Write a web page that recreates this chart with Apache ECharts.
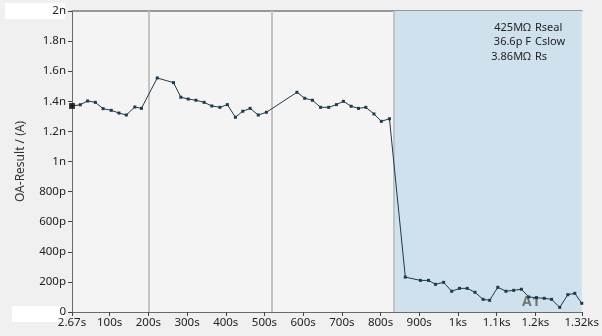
<!DOCTYPE html>
<html><head><meta charset="utf-8">
<script src="https://cdn.jsdelivr.net/npm/echarts@6/dist/echarts.min.js"></script>
<style>html,body{margin:0;padding:0;background:#f0f0f0;}#c{width:602px;height:336px;}</style>
</head><body><div id="c"></div>
<script>
// time (s)
const times = [2.67,24,43,63,83,104,124,143,165,182,223,265,284,303,323,344,364,385,404,425,444,463,484,505,584,604,624,645,666,686,704,724,743,762,783,802,823,864,903,924,942,963,984,1004,1024,1044,1065,1082,1103,1124,1144,1164,1183,1203,1223,1242,1263,1284,1302,1320];
// OA-Result in nA
const values = [1.369,1.377,1.402,1.393,1.351,1.340,1.322,1.309,1.362,1.353,1.555,1.524,1.427,1.415,1.407,1.393,1.369,1.360,1.378,1.294,1.334,1.353,1.309,1.327,1.460,1.420,1.407,1.360,1.360,1.378,1.400,1.367,1.353,1.360,1.316,1.267,1.284,0.232,0.210,0.210,0.184,0.197,0.138,0.157,0.157,0.131,0.084,0.078,0.164,0.138,0.144,0.151,0.100,0.095,0.091,0.084,0.031,0.115,0.124,0.058];
const xTicks = [2.67,100,200,300,400,500,600,700,800,900,1000,1100,1200,1320];
const cursorTimes = [202, 518];
const regionStart = 834, regionEnd = 1320;
const paramValues = ['425M\u03A9','36.6p F','3.86M\u03A9'];
const paramNames = ['Rseal','Cslow','Rs'];
const regionLabel = 'A1';

const fmtX = v => v < 1000 ? (Math.round(v*100)/100) + 's' : (Math.round(v)/1000) + 'ks';
const fmtY = v => { v = Math.round(v*1000)/1000; if (v === 0) return '0'; if (v < 1) return Math.round(v*1000) + 'p'; return v + 'n'; };

const font = 'Noto Sans';
const chart = echarts.init(document.getElementById('c'));
const graphics = [
  {type:'rect', left:5, top:3, shape:{width:60,height:16}, style:{fill:'#ffffff'}, z:-1},
  {type:'rect', left:12, top:306, shape:{width:53,height:16}, style:{fill:'#ffffff'}, z:-1},
  {type:'text', left:522, top:295, z:3, style:{text:regionLabel, fill:'#727272', fontSize:14, fontWeight:'bold', fontFamily:font}}
];
paramValues.forEach((pv,i)=>{
  graphics.push({type:'text', right:602-531, top:22+i*14.5, z:100, style:{text:pv, fill:'#222', fontSize:11, fontFamily:font}});
  graphics.push({type:'text', left:535, top:22+i*14.5, z:100, style:{text:paramNames[i], fill:'#222', fontSize:11, fontFamily:font}});
});
chart.setOption({
  backgroundColor:'#f0f0f0',
  animation:false,
  grid:{left:72,right:20,top:11,bottom:24,show:true,backgroundColor:'#f4f4f4',borderWidth:0},
  xAxis:[{
    type:'value', min:2.67, max:1320,
    axisLine:{show:true,lineStyle:{color:'#6a6a6a',width:1}},
    splitLine:{show:false},
    axisTick:{show:true,length:4,customValues:xTicks,lineStyle:{color:'#444'}},
    axisLabel:{customValues:xTicks,formatter:fmtX,color:'#222',fontFamily:font,fontSize:11.5,margin:5,showMinLabel:true,showMaxLabel:true}
  },{
    type:'value', min:2.67, max:1320, position:'top',
    axisLine:{show:true,lineStyle:{color:'#7a7a7a',width:1.5}},
    axisTick:{show:false}, axisLabel:{show:false}, splitLine:{show:false}
  }],
  yAxis:{
    type:'value', min:0, max:2, interval:0.2,
    name:'OA-Result / (A)', nameLocation:'middle', nameGap:45,
    nameTextStyle:{color:'#333',fontFamily:font,fontSize:12},
    axisLine:{show:true,lineStyle:{color:'#6a6a6a'}},
    axisTick:{show:true,length:4,lineStyle:{color:'#444'}},
    splitLine:{show:false},
    axisLabel:{formatter:fmtY,color:'#222',fontFamily:font,fontSize:11.5,margin:6}
  },
  graphic:{elements:graphics},
  series:[{
    type:'line', data:[], z:1,
    markArea:{silent:true, itemStyle:{color:'#cfe1ed'}, data:[[{xAxis:regionStart},{xAxis:regionEnd}]]},
    markLine:{silent:true, symbol:'none', label:{show:false},
      lineStyle:{color:'#c3c3c3',width:2,type:'solid'},
      data:cursorTimes.concat([regionStart]).map(t=>({xAxis:t}))}
  },{
    type:'line',
    data:times.map((t,i)=>[t,values[i]]),
    symbol:'rect', symbolSize:3, showSymbol:true,
    lineStyle:{color:'#1c3b4c',width:1},
    itemStyle:{color:'#1c3b4c'},
    z:5
  },{
    type:'scatter', data:[[times[0],values[0]]], symbol:'rect', symbolSize:6,
    itemStyle:{color:'#111'}, z:6
  }]
});
</script></body></html>
